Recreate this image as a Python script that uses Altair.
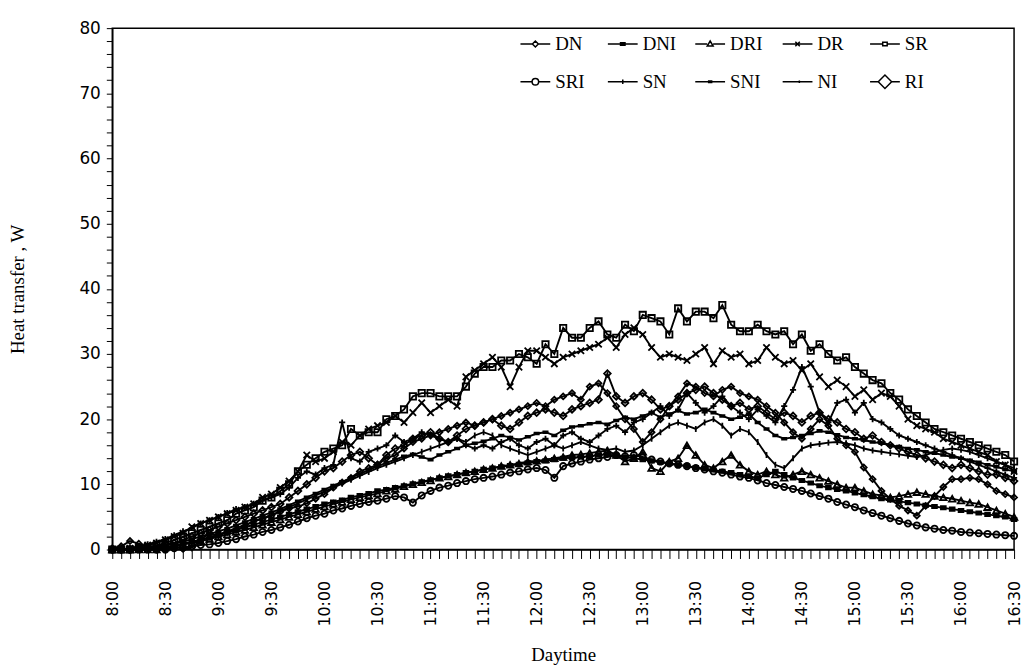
import altair as alt
import pandas as pd

# time in minutes after 8:00, one reading every 5 minutes (8:00 .. 16:30)
minutes = list(range(0, 511, 5))

series_names = ["DN", "DNI", "DRI", "DR", "SR", "SRI", "SN", "SNI", "NI", "RI"]

SR = [0, 0, 0, 0.2, 0.4, 0.6,
      1, 1.5, 2, 2.5, 3, 3.5,
      4, 4.5, 5.5, 6, 6.5, 7.5,
      8, 9, 10, 12, 13, 14,
      15, 15.5, 16, 18.5, 17.5, 18,
      18, 20, 20.5, 21.5, 23.5, 24,
      24, 23.5, 23.5, 23.5, 25, 27,
      28, 28, 29, 29, 30, 29.5,
      28.5, 31.5, 30, 34, 32.5, 32.5,
      34, 35, 33, 32.5, 34.5, 33.5,
      36, 35.5, 35, 33, 37, 35,
      36.5, 36.5, 35.5, 37.5, 34.5, 33.5,
      33.5, 34.5, 33.5, 33, 33.5, 31.5,
      33, 30.5, 31.5, 30, 29, 29.5,
      28, 27, 26, 25.5, 24, 23,
      21.5, 20.5, 19.5, 18.5, 18, 17.5,
      17, 16.5, 16, 15.5, 15, 14.5,
      13.5]

DR = [0, 0, 0.2, 0.4, 0.7, 1,
      1.5, 2, 2.5, 3.5, 4, 4.5,
      5, 5.5, 6, 6.5, 7, 8,
      8.5, 9.5, 10.5, 12, 14.5, 13.5,
      14, 15, 16.5, 16, 17.5, 18.5,
      19, 19.5, 20.5, 19.5, 21, 22.5,
      21, 22, 23, 22, 26.5, 27.5,
      28.5, 29.5, 28, 25, 28, 30.5,
      30.5, 29.5, 28.5, 29.5, 30, 30.5,
      31, 31.5, 32.5, 31, 33, 34,
      33, 31, 29.5, 30, 29.5, 29,
      30, 31, 28.5, 30.5, 29.5, 30,
      28.5, 29, 31, 29.5, 28.5, 29,
      27.5, 28.5, 26.5, 25, 26, 25,
      23.5, 24.5, 23, 24, 23.5, 22,
      20, 19, 18.5, 18, 17, 16.5,
      16, 15.5, 15, 14.5, 13.5, 13,
      12]

RI = [0.2, 0.5, 1.3, 0.9, 0.4, 0,
      0, 0.6, 0.1, 0.3, 1.5, 2.5,
      2.2, 2.7, 3, 3.6, 4.4, 4.7,
      5.2, 5.8, 6.3, 6.6, 7.1, 7.8,
      8.5, 9.5, 10.3, 11, 12, 12.5,
      13, 14, 14.5, 15.5, 16.5, 17,
      17.5, 18, 18.5, 19, 19.5, 19,
      19.5, 20, 20.5, 21, 21.5, 22,
      22.5, 22, 23, 23.5, 24, 23,
      25, 25.5, 24, 22, 20, 18.5,
      16.5, 18, 20, 22, 23.5, 25.5,
      25, 24, 23.5, 24.5, 25, 24,
      23.5, 23, 22, 21, 19.5, 18,
      17, 18.5, 20, 19, 17, 16,
      15, 12.6, 10.8, 9, 7.8, 6.7,
      6, 5.2, 6.7, 8.2, 9.6, 10.8,
      10.8, 11, 10.8, 10, 9, 8.5,
      8]

DN = [0, 0, 0, 0.2, 0.3, 0.5,
      0.8, 1, 1.5, 2, 2.5, 3,
      3.5, 4, 4.5, 5, 5.5, 6,
      6.5, 7, 8, 9, 10, 11,
      12, 12.5, 13.5, 14.5, 15, 14,
      13, 14.5, 15.5, 16, 17, 17.5,
      18, 17, 16.5, 17.5, 18.5, 19,
      19.5, 20, 19, 18.5, 19.5, 20.5,
      21, 21.5, 21, 20.5, 21.5, 22,
      22.5, 23, 27, 23.5, 22.5, 23.5,
      24, 23, 21.5, 22, 23, 24,
      24.5, 25, 24, 23, 22, 22.5,
      21.5, 22, 21, 20, 21, 20.5,
      19.5, 20.5, 21, 20, 19.5, 18.5,
      18, 17, 17.5, 16.5, 16, 15.5,
      15, 14.5, 14, 13.5, 13, 12.5,
      13, 12.5, 12, 11.5, 11.5, 11,
      10.5]

SRI = [0, 0, 0, 0, 0, 0,
       0, 0.2, 0.3, 0.5, 0.7, 0.8,
       1, 1.3, 1.6, 2, 2.3, 2.7,
       3, 3.4, 3.8, 4.3, 4.8, 5.2,
       5.5, 6, 6.3, 6.7, 7, 7.3,
       7.5, 7.8, 8.2, 8, 7.2, 8.3,
       9, 9.5, 9.8, 10.2, 10.5, 10.8,
       11, 11.2, 11.5, 11.8, 12, 12.3,
       12.5, 12.2, 11, 12.8, 13.2, 13.5,
       13.8, 14, 14.2, 14.5, 14.3, 14.5,
       14.2, 13.8, 13.5, 13.2, 13, 12.8,
       12.5, 12.3, 12, 11.8, 11.5, 11.2,
       11, 10.6, 10.2, 9.9, 9.6, 9.3,
       9, 8.6, 8.2, 7.8, 7.3, 6.9,
       6.5, 6, 5.6, 5.2, 4.8, 4.4,
       4, 3.7, 3.4, 3.2, 3, 2.9,
       2.7, 2.6, 2.5, 2.4, 2.3, 2.2,
       2.1]

DRI = [0, 0, 0, 0, 0, 0,
       0.3, 0.5, 0.8, 1, 1.3, 1.6,
       2, 2.3, 2.7, 3, 3.4, 3.8,
       4.2, 4.6, 5, 5.4, 5.8, 6.2,
       6.6, 7, 7.3, 7.7, 8, 8.3,
       8.6, 9, 9.3, 9.7, 10, 10.3,
       10.6, 11, 11.2, 11.5, 11.8, 12,
       12.3, 12.5, 12.8, 13, 13.2, 13.5,
       13.6, 13.8, 14, 14.2, 14.5, 14.6,
       14.8, 15, 15.2, 14.5, 13.5, 14,
       15, 12.5, 12, 13.5, 14, 16,
       14.5, 13, 12.5, 13.5, 14.5, 13,
       12, 11.5, 12, 11.5, 11, 11.5,
       12, 11.5, 11, 10.5, 10, 9.5,
       9.5, 9, 8.5, 8.3, 8, 8.2,
       8.5, 8.8, 8.5, 8.2, 8, 7.8,
       7.5, 7.2, 7, 6.5, 6, 5.5,
       5]

DNI = [0, 0, 0, 0, 0.1, 0.2,
       0.4, 0.6, 0.9, 1.2, 1.5, 1.8,
       2.2, 2.6, 3, 3.4, 3.8, 4.2,
       4.6, 5, 5.4, 5.8, 6.2, 6.6,
       7, 7.3, 7.6, 8, 8.3, 8.6,
       9, 9.2, 9.5, 9.8, 10.1, 10.4,
       10.7, 11, 11.3, 11.5, 11.8, 12,
       12.3, 12.5, 12.7, 12.9, 13.1, 13.3,
       13.5, 13.6, 13.8, 14, 14.1, 14.2,
       14.3, 14.5, 14.6, 14.4, 14.2, 14,
       13.8, 13.6, 13.4, 13.2, 13, 12.8,
       12.6, 12.4, 12.2, 12, 11.8, 11.5,
       11.2, 11, 11.5, 12, 11.5, 11,
       10.6, 10.2, 9.8, 9.5, 9.2, 9,
       8.7, 8.4, 8.1, 7.8, 7.6, 7.4,
       7.2, 7, 6.8, 6.6, 6.4, 6.2,
       6, 5.8, 5.6, 5.4, 5.2, 5,
       4.6]

SN = [0, 0, 0.2, 0.5, 0.8, 1.2,
      1.6, 2.2, 2.8, 3.3, 4, 4.5,
      5, 5.6, 6.2, 6.5, 7, 7.5,
      8, 8.5, 9.5, 11, 12, 11.5,
      12.5, 13, 19.5, 14, 13.5, 15,
      15.5, 16, 17.5, 16.5, 17, 18,
      17.5, 17, 16.5, 17, 16, 15.5,
      16, 15.5, 16.5, 17, 16, 15.5,
      16.5, 17, 16, 17.5, 18, 17,
      16.5, 17.5, 18.5, 19, 18, 19.5,
      20, 21, 22, 20.5, 21.5, 24,
      22.5, 21, 22, 23.5, 22, 21,
      20, 21.5, 20.5, 19.5, 22, 24.5,
      28, 25, 21, 19.5, 22.5, 23,
      21, 22.5, 20, 19.5, 18.5, 17.5,
      17, 16.5, 16, 15.5, 15, 14.5,
      14, 13.5, 13, 12.5, 12, 11.5,
      11]

SNI = [0, 0, 0, 0.1, 0.2, 0.4,
       0.6, 0.9, 1.2, 1.6, 2, 2.4,
       2.8, 3.2, 3.7, 4.2, 4.7, 5.2,
       5.7, 6.2, 6.8, 7.4, 8, 8.6,
       9.2, 9.8, 10.4, 11, 11.6, 12.2,
       12.8, 13.3, 13.8, 14.3, 14.6, 14.2,
       13.8, 14.5, 15, 15.5, 16, 16.3,
       16.6, 17, 17.5, 17.2, 16.8, 17.3,
       17.8, 18, 17.5, 18.3, 18.8, 19,
       19.3, 19.5, 19.2, 19.8, 20.3, 20,
       20.5, 21, 20.3, 20.8, 21.3, 20.8,
       21, 21.5, 21, 20.5, 20, 20.3,
       20.8, 19.5, 18.5, 17.5, 17, 17.2,
       17.5, 17.8, 18.2, 18, 17.6, 17.2,
       17, 16.8, 16.5, 16.3, 16, 15.8,
       15.5, 15.3, 15, 14.8, 14.5, 14.2,
       14, 13.7, 13.4, 13, 12.7, 12.3,
       12]

NI = [0, 0, 0, 0, 0.1, 0.2,
      0.3, 0.5, 0.8, 1.1, 1.5, 1.9,
      2.3, 2.8, 3.3, 3.8, 4.3, 4.8,
      5.3, 5.9, 6.5, 7.1, 7.7, 8.3,
      8.9, 9.5, 10.1, 10.7, 11.3, 11.9,
      12.5, 13, 13.5, 14, 14.5, 15,
      15.5, 16, 16.5, 17, 16.5, 17.5,
      18, 17.5, 16, 15.5, 15, 14.5,
      15, 15.5, 16, 15.5, 16, 16.5,
      16, 15.5, 15.3, 15.5, 15, 15.2,
      16, 17, 18, 19, 19.5, 19,
      18.5, 19.5, 20, 19, 17.5, 18.5,
      18, 16.5, 14.5, 13, 12.5, 14,
      15.5, 16, 16.2, 16.4, 16.5, 16.3,
      16, 15.5, 15.2, 15, 14.8, 14.6,
      14.4, 14.2, 14.5, 15, 15.3, 15.5,
      15.3, 15, 14.5, 14, 13.5, 13,
      12.5]

values_by_series = {"DN": DN, "DNI": DNI, "DRI": DRI, "DR": DR, "SR": SR,
                    "SRI": SRI, "SN": SN, "SNI": SNI, "NI": NI, "RI": RI}

# marker shapes (plot) and legend symbols (line + marker)
X_PATH = "M-1,-1L1,1M-1,1L1,-1"
PLUS_PATH = "M-1,0L1,0M0,-1L0,1"
BAR_PATH = "M-1,-0.5L1,-0.5M-1,-0.17L1,-0.17M-1,0.17L1,0.17M-1,0.5L1,0.5"
DASH_PATH = "M-1,-0.3L1,-0.3M-1,0L1,0M-1,0.3L1,0.3"
TICK_PATH = "M0,-1L0,1"
marker_shapes = ["diamond", BAR_PATH, "triangle-up", X_PATH, "square",
                 "circle", PLUS_PATH, DASH_PATH, TICK_PATH, "diamond"]
marker_sizes = [45, 35, 55, 60, 40, 70, 70, 30, 25, 200]

legend_symbol = {
    "DN": "M-1,0L-0.2,0M0.2,0L1,0M-0.2,0L0,-0.2L0.2,0L0,0.2Z",
    "DNI": "M-1,0L1,0M-0.2,-0.08L0.2,-0.08M-0.2,0.08L0.2,0.08",
    "DRI": "M-1,0L-0.2,0M0.2,0L1,0M-0.2,0.14L0,-0.2L0.2,0.14Z",
    "DR": "M-1,0L1,0M-0.15,-0.15L0.15,0.15M-0.15,0.15L0.15,-0.15",
    "SR": "M-1,0L-0.15,0M0.15,0L1,0M-0.15,-0.12L0.15,-0.12L0.15,0.12L-0.15,0.12Z",
    "SRI": "M-1,0L-0.22,0M0.22,0L1,0M-0.22,0A0.22,0.22 0 1,0 0.22,0A0.22,0.22 0 1,0 -0.22,0Z",
    "SN": "M-1,0L1,0M0,-0.15L0,0.15",
    "SNI": "M-1,0L1,0M-0.15,-0.05L0.15,-0.05M-0.15,0.05L0.15,0.05",
    "NI": "M-1,0L1,0M0.12,-0.09L0.12,0.09",
    "RI": "M-1,0L-0.45,0M0.45,0L1,0M-0.45,0L0,-0.45L0.45,0L0,0.45Z",
}
# legend fills column by column (2 rows): interleave the two rows
legend_order = ["DN", "SRI", "DNI", "SN", "DRI", "SNI", "DR", "NI", "SR", "RI"]
legend_shapes = [legend_symbol[n] for n in legend_order]

rows = []
for name in series_names:
    for m, v in zip(minutes, values_by_series[name]):
        rows.append({"series": name, "minute": m, "value": v})
df = pd.DataFrame(rows)

legend_df = pd.DataFrame({"lseries": legend_order,
                          "minute": [0] * len(legend_order),
                          "value": [-50] * len(legend_order)})

x_labels = ("datum.value % 30 === 0 ? (floor(datum.value / 60) + 8) + ':' + "
            "(datum.value % 60 === 0 ? '00' : '30') : ''")

x_enc = alt.X("minute:Q",
              scale=alt.Scale(domain=[0, 510], nice=False, zero=False),
              axis=alt.Axis(values=minutes, labelExpr=x_labels, labelAngle=270,
                            labelFont="DejaVu Sans", labelFontSize=16,
                            labelColor="black", labelPadding=22,
                            labelOverlap=False, labelFlush=False, tickSize=9,
                            tickColor="black",
                            tickWidth=1, domainColor="black", domainWidth=1.5,
                            grid=False, title="Daytime",
                            titleFont="Liberation Serif", titleFontSize=19,
                            titleFontWeight="normal", titleColor="black",
                            titlePadding=20))
y_enc = alt.Y("value:Q",
              scale=alt.Scale(domain=[0, 80], nice=False),
              axis=alt.Axis(values=list(range(0, 81, 2)),
                            labelExpr="datum.value % 10 === 0 ? datum.label : ''",
                            labelFont="DejaVu Sans", labelFontSize=17,
                            labelColor="black", labelPadding=6,
                            labelOverlap=False, tickSize=6, tickColor="black",
                            tickWidth=1, domainColor="black", domainWidth=1.5,
                            grid=False, title="Heat transfer , W",
                            titleFont="Liberation Serif", titleFontSize=19,
                            titleFontWeight="normal", titleColor="black",
                            titleX=-95, titleBaseline="middle"))

lines = alt.Chart(df).mark_line(color="black", strokeWidth=1.9).encode(
    x=x_enc, y=y_enc, detail="series:N", order="minute:Q")

points = alt.Chart(df).mark_point(filled=False, color="black", strokeWidth=1.8,
                                  opacity=1).encode(
    x=x_enc, y=y_enc,
    shape=alt.Shape("series:N", scale=alt.Scale(domain=series_names,
                                                range=marker_shapes), legend=None),
    size=alt.Size("series:N", scale=alt.Scale(domain=series_names,
                                              range=marker_sizes), legend=None))

legend_layer = alt.Chart(legend_df).mark_point(
    filled=False, color="black", strokeWidth=1.5, clip=True, opacity=1).encode(
    x=x_enc, y=y_enc,
    shape=alt.Shape("lseries:N",
                    scale=alt.Scale(domain=legend_order, range=legend_shapes),
                    legend=alt.Legend(title=None, orient="none", legendX=410,
                                      legendY=0, columns=5, gridAlign="all",
                                      symbolSize=900, symbolStrokeWidth=1.5,
                                      symbolStrokeColor="black",
                                      symbolFillColor="white",
                                      labelFont="Liberation Serif",
                                      labelFontSize=19, labelColor="black",
                                      labelOffset=4, columnPadding=16,
                                      rowPadding=12)))

chart = alt.layer(lines, points, legend_layer).resolve_scale(
    shape="independent", size="independent"
).properties(
    width=908, height=525,
    autosize=alt.AutoSizeParams(type="none"),
    padding={"left": 105, "top": 18, "right": 10, "bottom": 118},
    background="white",
).configure_view(stroke="black", strokeWidth=1.5
).configure_axis(labelOverlap=False)

chart.save("out.html", embed_options={"renderer": "svg", "actions": False})
